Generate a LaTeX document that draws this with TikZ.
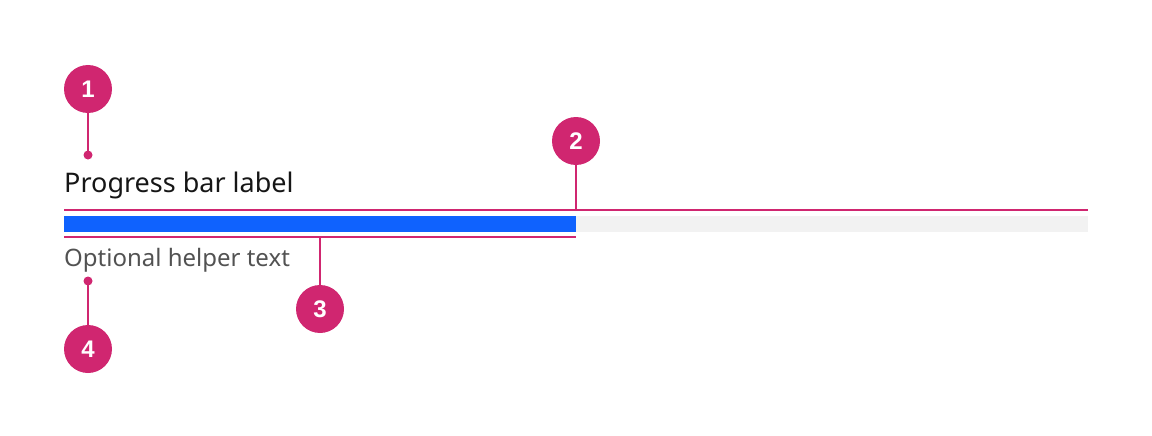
\documentclass[tikz,border=0pt]{standalone}
\usepackage{fontspec}
\setmainfont{Noto Sans}
\newfontfamily\badgefont{Liberation Sans}
\definecolor{magenta}{HTML}{D02670}
\definecolor{barblue}{HTML}{0F62FE}
\definecolor{track}{HTML}{F2F2F2}
\definecolor{helper}{HTML}{525252}
\definecolor{labeltext}{HTML}{161616}
\begin{document}
\begin{tikzpicture}[x=1pt,y=-1pt,
  badge/.style={circle,fill=magenta,minimum size=48pt,inner sep=0pt,text=white,font=\badgefont\fontsize{24}{28}\selectfont\bfseries},
  lead/.style={draw=magenta,line width=2pt},
  pin/.style={circle,fill=magenta,minimum size=9pt,inner sep=0pt},
  txt/.style={anchor=base west,inner sep=0pt}]
\useasboundingbox (0,0) rectangle (1152,436);
% bar
\fill[track] (576,216) rectangle (1088,232);
\fill[barblue] (64,216) rectangle (576,232);
% texts
\node[txt,text=labeltext,font=\fontsize{27}{32}\selectfont] (lbl) at (64,192) {Progress bar label};
\node[txt,text=helper,font=\fontsize{24}{28}\selectfont] (help) at (64,266) {Optional helper text};
% measure lines
\coordinate (tl) at (64,210); \coordinate (tr) at (1088,210);
\coordinate (bl) at (64,237); \coordinate (br) at (576,237);
\coordinate (t2) at (576,210); \coordinate (b3) at (320,237);
\draw[lead] (tl) -- (tr);
\draw[lead] (bl) -- (br);
% badges
\node[badge] (n1) at (88,89) {1};
\node[badge] (n2) at (576,141) {2};
\node[badge] (n3) at (320,309) {3};
\node[badge] (n4) at (88,349) {4};
\node[pin] (p1) at (88,155) {};
\node[pin] (p4) at (88,281) {};
\draw[lead] (n1) -- (p1.center);
\draw[lead] (n4) -- (p4.center);
\draw[lead] (n2) -- (t2);
\draw[lead] (n3) -- (b3);
\end{tikzpicture}
\end{document}
